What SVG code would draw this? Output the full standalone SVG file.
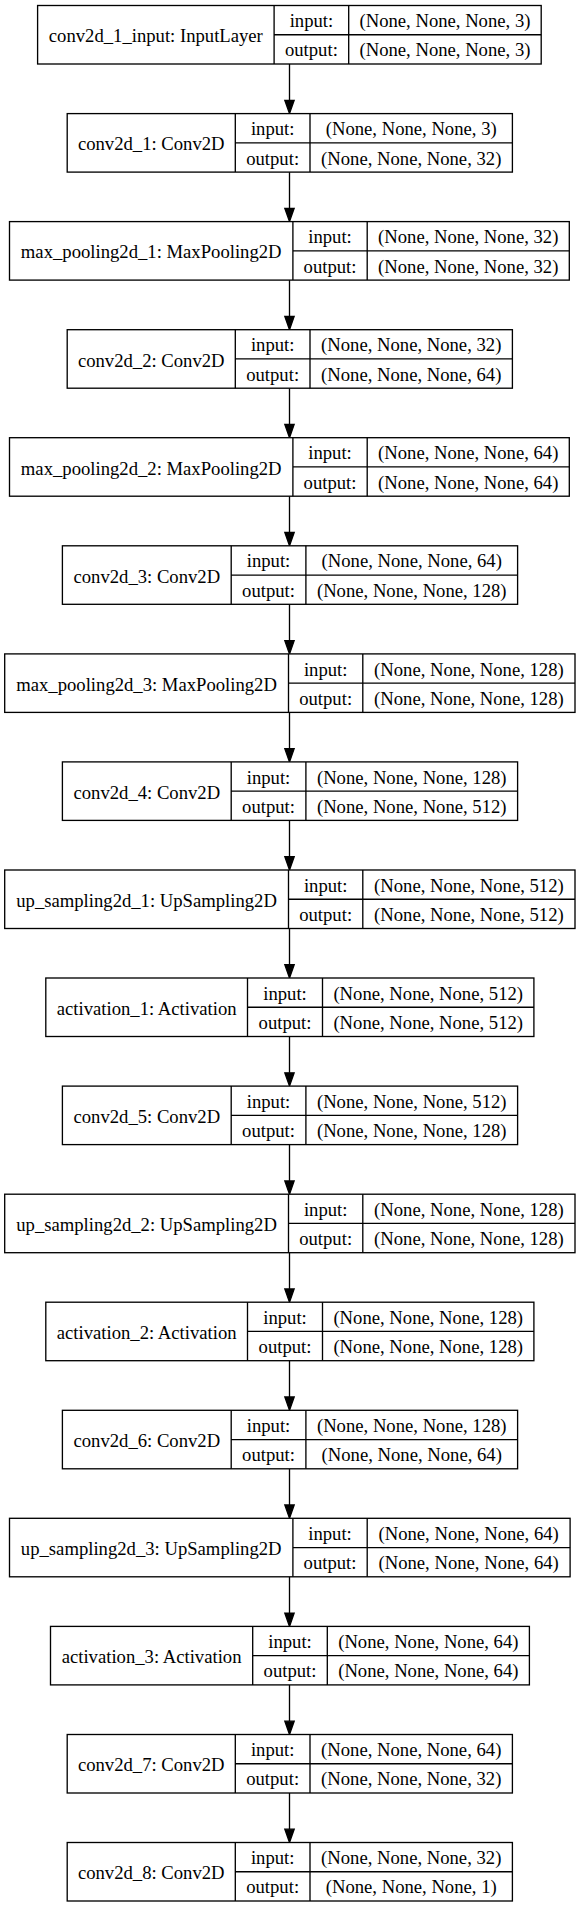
<svg xmlns="http://www.w3.org/2000/svg" width="578" height="1907" viewBox="0 0 578 1907">
<style>
.bx{fill:#fff;stroke:#000;stroke-width:1.33}
.dv{fill:none;stroke:#000;stroke-width:1.33}
text{font-family:"Liberation Serif","Times New Roman",serif;font-size:18.67px;fill:#000;text-anchor:middle}
.edge{fill:none;stroke:#000;stroke-width:1.33}
</style>
<defs>
<marker id="arrow" markerUnits="userSpaceOnUse" viewBox="-2 -7 18 14" refX="0" refY="0" markerWidth="18" markerHeight="14" orient="auto" overflow="visible">
<path d="M0,-4.67 L13.3,0 L0,4.67 z" fill="#000" stroke="#000" stroke-width="1.33"/>
</marker>
</defs>
<rect width="578" height="1907" fill="#fff"/>
<g id="connectors">
<path class="edge" marker-end="url(#arrow)" d="M289.5,64V100.3"/>
<path class="edge" marker-end="url(#arrow)" d="M289.5,172.1V208.3"/>
<path class="edge" marker-end="url(#arrow)" d="M289.5,280.1V316.4"/>
<path class="edge" marker-end="url(#arrow)" d="M289.5,388.2V424.4"/>
<path class="edge" marker-end="url(#arrow)" d="M289.5,496.2V532.5"/>
<path class="edge" marker-end="url(#arrow)" d="M289.5,604.3V640.6"/>
<path class="edge" marker-end="url(#arrow)" d="M289.5,712.4V748.6"/>
<path class="edge" marker-end="url(#arrow)" d="M289.5,820.4V856.7"/>
<path class="edge" marker-end="url(#arrow)" d="M289.5,928.5V964.7"/>
<path class="edge" marker-end="url(#arrow)" d="M289.5,1036.5V1072.8"/>
<path class="edge" marker-end="url(#arrow)" d="M289.5,1144.6V1180.9"/>
<path class="edge" marker-end="url(#arrow)" d="M289.5,1252.7V1288.9"/>
<path class="edge" marker-end="url(#arrow)" d="M289.5,1360.7V1397"/>
<path class="edge" marker-end="url(#arrow)" d="M289.5,1468.8V1505"/>
<path class="edge" marker-end="url(#arrow)" d="M289.5,1576.8V1613.1"/>
<path class="edge" marker-end="url(#arrow)" d="M289.5,1684.9V1721.2"/>
<path class="edge" marker-end="url(#arrow)" d="M289.5,1793V1829.2"/>
</g>
<g id="conv2d_1_input">
<rect class="bx" x="37.6" y="5.5" width="503.6" height="58.5"/>
<path class="dv" d="M274.1,5.5V64M348.7,5.5V64M274.1,34.75H541.2"/>
<text x="155.85" y="42.35">conv2d_1_input: InputLayer</text>
<text x="311.4" y="27.1">input:</text>
<text x="311.4" y="56.4">output:</text>
<text x="444.95" y="27.1">(None, None, None, 3)</text>
<text x="444.95" y="56.4">(None, None, None, 3)</text>
</g>
<g id="conv2d_1">
<rect class="bx" x="67.2" y="113.6" width="445.2" height="58.5"/>
<path class="dv" d="M235.3,113.6V172.1M310,113.6V172.1M235.3,142.85H512.4"/>
<text x="151.25" y="150.45">conv2d_1: Conv2D</text>
<text x="272.65" y="135.2">input:</text>
<text x="272.65" y="164.5">output:</text>
<text x="411.2" y="135.2">(None, None, None, 3)</text>
<text x="411.2" y="164.5">(None, None, None, 32)</text>
</g>
<g id="max_pooling2d_1">
<rect class="bx" x="9.5" y="221.6" width="559.8" height="58.5"/>
<path class="dv" d="M292.9,221.6V280.1M367.2,221.6V280.1M292.9,250.85H569.3"/>
<text x="151.2" y="258.45">max_pooling2d_1: MaxPooling2D</text>
<text x="330.05" y="243.2">input:</text>
<text x="330.05" y="272.5">output:</text>
<text x="468.25" y="243.2">(None, None, None, 32)</text>
<text x="468.25" y="272.5">(None, None, None, 32)</text>
</g>
<g id="conv2d_2">
<rect class="bx" x="67.2" y="329.7" width="445.2" height="58.5"/>
<path class="dv" d="M235.3,329.7V388.2M310,329.7V388.2M235.3,358.95H512.4"/>
<text x="151.25" y="366.55">conv2d_2: Conv2D</text>
<text x="272.65" y="351.3">input:</text>
<text x="272.65" y="380.6">output:</text>
<text x="411.2" y="351.3">(None, None, None, 32)</text>
<text x="411.2" y="380.6">(None, None, None, 64)</text>
</g>
<g id="max_pooling2d_2">
<rect class="bx" x="9.5" y="437.7" width="559.8" height="58.5"/>
<path class="dv" d="M292.9,437.7V496.2M367.2,437.7V496.2M292.9,466.95H569.3"/>
<text x="151.2" y="474.55">max_pooling2d_2: MaxPooling2D</text>
<text x="330.05" y="459.3">input:</text>
<text x="330.05" y="488.6">output:</text>
<text x="468.25" y="459.3">(None, None, None, 64)</text>
<text x="468.25" y="488.6">(None, None, None, 64)</text>
</g>
<g id="conv2d_3">
<rect class="bx" x="62.4" y="545.8" width="455.2" height="58.5"/>
<path class="dv" d="M231.2,545.8V604.3M305.9,545.8V604.3M231.2,575.05H517.6"/>
<text x="146.8" y="582.65">conv2d_3: Conv2D</text>
<text x="268.55" y="567.4">input:</text>
<text x="268.55" y="596.7">output:</text>
<text x="411.75" y="567.4">(None, None, None, 64)</text>
<text x="411.75" y="596.7">(None, None, None, 128)</text>
</g>
<g id="max_pooling2d_3">
<rect class="bx" x="4.7" y="653.9" width="570.3" height="58.5"/>
<path class="dv" d="M288.5,653.9V712.4M362.8,653.9V712.4M288.5,683.15H575"/>
<text x="146.6" y="690.75">max_pooling2d_3: MaxPooling2D</text>
<text x="325.65" y="675.5">input:</text>
<text x="325.65" y="704.8">output:</text>
<text x="468.9" y="675.5">(None, None, None, 128)</text>
<text x="468.9" y="704.8">(None, None, None, 128)</text>
</g>
<g id="conv2d_4">
<rect class="bx" x="62.4" y="761.9" width="455.2" height="58.5"/>
<path class="dv" d="M231.2,761.9V820.4M305.9,761.9V820.4M231.2,791.15H517.6"/>
<text x="146.8" y="798.75">conv2d_4: Conv2D</text>
<text x="268.55" y="783.5">input:</text>
<text x="268.55" y="812.8">output:</text>
<text x="411.75" y="783.5">(None, None, None, 128)</text>
<text x="411.75" y="812.8">(None, None, None, 512)</text>
</g>
<g id="up_sampling2d_1">
<rect class="bx" x="4.7" y="870" width="570.3" height="58.5"/>
<path class="dv" d="M288.5,870V928.5M362.8,870V928.5M288.5,899.25H575"/>
<text x="146.6" y="906.85">up_sampling2d_1: UpSampling2D</text>
<text x="325.65" y="891.6">input:</text>
<text x="325.65" y="920.9">output:</text>
<text x="468.9" y="891.6">(None, None, None, 512)</text>
<text x="468.9" y="920.9">(None, None, None, 512)</text>
</g>
<g id="activation_1">
<rect class="bx" x="45.8" y="978" width="488.1" height="58.5"/>
<path class="dv" d="M247.5,978V1036.5M322.5,978V1036.5M247.5,1007.25H533.9"/>
<text x="146.65" y="1014.85">activation_1: Activation</text>
<text x="285" y="999.6">input:</text>
<text x="285" y="1028.9">output:</text>
<text x="428.2" y="999.6">(None, None, None, 512)</text>
<text x="428.2" y="1028.9">(None, None, None, 512)</text>
</g>
<g id="conv2d_5">
<rect class="bx" x="62.4" y="1086.1" width="455.2" height="58.5"/>
<path class="dv" d="M231.2,1086.1V1144.6M305.9,1086.1V1144.6M231.2,1115.35H517.6"/>
<text x="146.8" y="1122.95">conv2d_5: Conv2D</text>
<text x="268.55" y="1107.7">input:</text>
<text x="268.55" y="1137">output:</text>
<text x="411.75" y="1107.7">(None, None, None, 512)</text>
<text x="411.75" y="1137">(None, None, None, 128)</text>
</g>
<g id="up_sampling2d_2">
<rect class="bx" x="4.7" y="1194.2" width="570.3" height="58.5"/>
<path class="dv" d="M288.5,1194.2V1252.7M362.8,1194.2V1252.7M288.5,1223.45H575"/>
<text x="146.6" y="1231.05">up_sampling2d_2: UpSampling2D</text>
<text x="325.65" y="1215.8">input:</text>
<text x="325.65" y="1245.1">output:</text>
<text x="468.9" y="1215.8">(None, None, None, 128)</text>
<text x="468.9" y="1245.1">(None, None, None, 128)</text>
</g>
<g id="activation_2">
<rect class="bx" x="45.8" y="1302.2" width="488.1" height="58.5"/>
<path class="dv" d="M247.5,1302.2V1360.7M322.5,1302.2V1360.7M247.5,1331.45H533.9"/>
<text x="146.65" y="1339.05">activation_2: Activation</text>
<text x="285" y="1323.8">input:</text>
<text x="285" y="1353.1">output:</text>
<text x="428.2" y="1323.8">(None, None, None, 128)</text>
<text x="428.2" y="1353.1">(None, None, None, 128)</text>
</g>
<g id="conv2d_6">
<rect class="bx" x="62.4" y="1410.3" width="455.2" height="58.5"/>
<path class="dv" d="M231.2,1410.3V1468.8M305.9,1410.3V1468.8M231.2,1439.55H517.6"/>
<text x="146.8" y="1447.15">conv2d_6: Conv2D</text>
<text x="268.55" y="1431.9">input:</text>
<text x="268.55" y="1461.2">output:</text>
<text x="411.75" y="1431.9">(None, None, None, 128)</text>
<text x="411.75" y="1461.2">(None, None, None, 64)</text>
</g>
<g id="up_sampling2d_3">
<rect class="bx" x="9.5" y="1518.3" width="560.6" height="58.5"/>
<path class="dv" d="M292.9,1518.3V1576.8M367.2,1518.3V1576.8M292.9,1547.55H570.1"/>
<text x="151.2" y="1555.15">up_sampling2d_3: UpSampling2D</text>
<text x="330.05" y="1539.9">input:</text>
<text x="330.05" y="1569.2">output:</text>
<text x="468.65" y="1539.9">(None, None, None, 64)</text>
<text x="468.65" y="1569.2">(None, None, None, 64)</text>
</g>
<g id="activation_3">
<rect class="bx" x="50.5" y="1626.4" width="478.9" height="58.5"/>
<path class="dv" d="M252.7,1626.4V1684.9M327.3,1626.4V1684.9M252.7,1655.65H529.4"/>
<text x="151.6" y="1663.25">activation_3: Activation</text>
<text x="290" y="1648">input:</text>
<text x="290" y="1677.3">output:</text>
<text x="428.35" y="1648">(None, None, None, 64)</text>
<text x="428.35" y="1677.3">(None, None, None, 64)</text>
</g>
<g id="conv2d_7">
<rect class="bx" x="67.2" y="1734.5" width="445.2" height="58.5"/>
<path class="dv" d="M235.3,1734.5V1793M310,1734.5V1793M235.3,1763.75H512.4"/>
<text x="151.25" y="1771.35">conv2d_7: Conv2D</text>
<text x="272.65" y="1756.1">input:</text>
<text x="272.65" y="1785.4">output:</text>
<text x="411.2" y="1756.1">(None, None, None, 64)</text>
<text x="411.2" y="1785.4">(None, None, None, 32)</text>
</g>
<g id="conv2d_8">
<rect class="bx" x="67.2" y="1842.5" width="445.2" height="58.5"/>
<path class="dv" d="M235.3,1842.5V1901M310,1842.5V1901M235.3,1871.75H512.4"/>
<text x="151.25" y="1879.35">conv2d_8: Conv2D</text>
<text x="272.65" y="1864.1">input:</text>
<text x="272.65" y="1893.4">output:</text>
<text x="411.2" y="1864.1">(None, None, None, 32)</text>
<text x="411.2" y="1893.4">(None, None, None, 1)</text>
</g>
</svg>
